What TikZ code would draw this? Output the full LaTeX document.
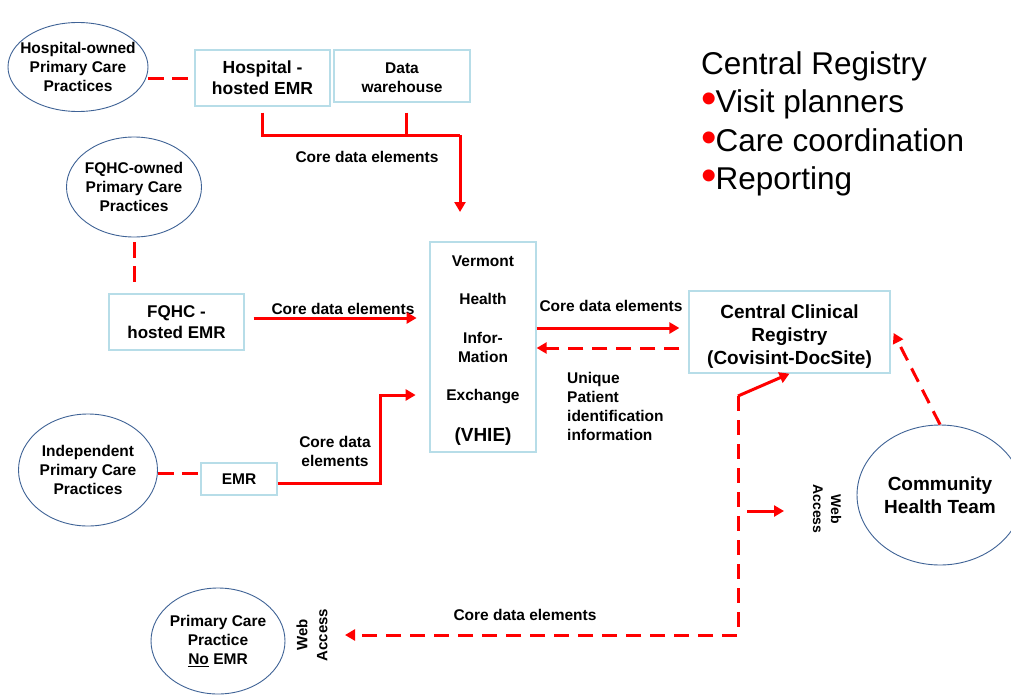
\documentclass[tikz,border=0pt]{standalone}
\usepackage{fontspec}
\setmainfont{Liberation Sans}
\usetikzlibrary{shapes.geometric,arrows.meta}
\definecolor{boxline}{HTML}{B7DDE8}
\definecolor{ellline}{HTML}{3F6396}
\definecolor{linered}{HTML}{FF0000}
\newcommand{\redbul}{\smash{\textcolor{linered}{\fontsize{44}{38.5}\selectfont\raisebox{-1pt}{•}}}\kern-1pt}
\tikzset{
  x=1pt,y=1pt,
  lbl/.style={font=\bfseries\fontsize{15.5}{19}\selectfont, align=center, inner sep=0pt},
  oval/.style={ellipse, draw=ellline, line width=0.9pt, inner xsep=-15pt, inner ysep=-5pt, font=\bfseries\fontsize{15.5}{19}\selectfont, align=center},
  sbox/.style={rectangle, draw=boxline, line width=1.3pt, inner sep=0pt, align=center, font=\bfseries\fontsize{17.5}{21}\selectfont},
  redline/.style={draw=linered, line width=3pt},
  redarrow/.style={draw=linered, line width=3pt, -{Triangle[length=10pt,width=11pt]}},
  reddash/.style={draw=linered, line width=3pt, dash pattern=on 16pt off 8pt},
  reddasharrow/.style={draw=linered, line width=3pt, dash pattern=on 15pt off 9pt, -{Triangle[length=10pt,width=11pt]}},
}
\begin{document}
\begin{tikzpicture}
\useasboundingbox (0,-696) rectangle (1011,0);
\clip (0,-696) rectangle (1011,0);
\fill[white] (0,-696) rectangle (1011,0);

% nodes
\node[oval, minimum width=140pt, minimum height=89pt] (hoe) at (78,-67) {Hospital-owned\\Primary Care\\Practices};
\node[sbox, minimum width=135pt, minimum height=56pt] (hemr) at (262.5,-78) {Hospital -\\hosted EMR};
\node[sbox, minimum width=136pt, minimum height=52pt, font=\bfseries\fontsize{15.5}{19}\selectfont] (dw) at (402,-76) {\rule{0pt}{15pt}Data\\warehouse};

\node[oval, minimum width=135pt, minimum height=100pt] (fqe) at (134,-187) {FQHC-owned\\Primary Care\\Practices};
\node[sbox, minimum width=135pt, minimum height=56pt, font=\bfseries\fontsize{17}{21}\selectfont] (fqb) at (176.5,-322) {FQHC -\\hosted EMR};

\node[oval, minimum width=139pt, minimum height=112pt] (ind) at (88,-470) {Independent\\Primary Care\\Practices};
\node[sbox, minimum width=76pt, minimum height=32pt, font=\bfseries\fontsize{15.5}{19}\selectfont] (emr) at (239,-479) {EMR};

\node[sbox, minimum width=106pt, minimum height=210pt, font=\bfseries\fontsize{15.5}{19}\selectfont] (vhie) at (483,-347)
  {\rule{0pt}{17.5pt}Vermont\\[19pt]Health\\[20pt]Infor-\\Mation\\[19pt]Exchange\\[22pt]{\fontsize{19}{22}\selectfont (VHIE)}};

\node[sbox, minimum width=201pt, minimum height=82pt, font=\bfseries\fontsize{19}{23}\selectfont] (ccr) at (789.5,-332) {\rule{0pt}{22pt}Central Clinical\\Registry\\(Covisint-DocSite)};

\node[oval, minimum width=166pt, minimum height=140pt, font=\bfseries\fontsize{19}{22.5}\selectfont] (cht) at (940,-495) {Community\\Health Team};

\node[oval, minimum width=134pt, minimum height=106pt] (pcp) at (218,-641) {Primary Care\\Practice\\\underline{No} EMR};

% labels
\node[lbl] (l1) at (367,-157) {Core data elements};
\node[lbl] (l2) at (343,-309) {Core data elements};
\node[lbl] (l3) at (335,-451) {Core data\\elements};
\node[lbl] (l4) at (611,-306) {Core data elements};
\node[lbl, align=left, anchor=north west] (l5) at (567,-372) {Unique\\Patient\\identification\\information};
\node[lbl] (l6) at (525,-615) {Core data elements};
\node[lbl, rotate=90, font=\bfseries\fontsize{15}{20}\selectfont] (wa1) at (312,-635) {Web\\Access};
\node[lbl, rotate=-90, font=\bfseries\fontsize{14}{18}\selectfont] (wa2) at (827,-509) {Web\\Access};

\node[anchor=north west, align=left, inner sep=0pt, font=\fontsize{31.5}{38.5}\selectfont] (cr) at (701,-51)
  {Central Registry\\
   \redbul Visit planners\\
   \redbul Care coordination\\
   \redbul Reporting};

% coordinates
\coordinate (j1) at (460,-135);
\coordinate (t1) at (460,-212);
\coordinate (corner) at (738,-396);
\coordinate (c2) at (738,-635);
\coordinate (pt) at (345,-635);
\coordinate (wsa) at (747,-511);

% connectors
\draw[reddash] (hoe.east |- hemr.west) -- ([xshift=-4pt]hemr.west);
\draw[redline] ([yshift=-6pt]hemr.south) |- (j1);
\draw[redarrow] (j1) -- (t1);
\draw[redline] ([xshift=4pt,yshift=-10pt]dw.south) -- ++(0,-23);

\draw[reddash] ([yshift=-5pt]fqe.south) -- ([yshift=6pt]fqe.south |- fqb.north);
\draw[redarrow] ([shift={(9pt,4pt)}]fqb.east) -- ++(163,0);

\draw[reddash] (ind.east |- 0,-473) -- ([yshift=6pt]emr.west);
\draw[redarrow] ([yshift=-4pt]emr.east) -- ++(103,0) -- ++(0,88) -- ++(35,0);

\draw[redarrow] ([yshift=19pt]vhie.east) -- ([shift={(-9pt,4pt)}]ccr.west);
\draw[reddasharrow] ([shift={(-9pt,-16pt)}]ccr.west) -- ([yshift=-1pt]vhie.east);

\draw[redarrow] (corner) -- (ccr.south);
\draw[reddasharrow] (corner) -- (c2) -- (pt);
\draw[redarrow] (wsa) -- ++(37,0);

\draw[reddasharrow] (cht.north) -- ([shift={(3pt,-1pt)}]ccr.east);
\end{tikzpicture}
\end{document}
